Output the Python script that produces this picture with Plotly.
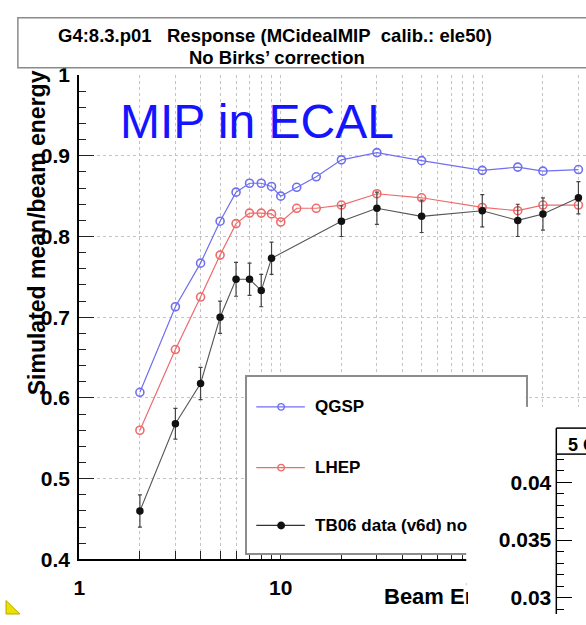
import plotly.graph_objects as go

W, H = 586, 625

# ---------------- data ----------------
energy_sim = [2, 3, 4, 5, 6, 7, 8, 9, 10, 12, 15, 20, 30, 50, 100, 150, 200, 300]
qgsp = [0.607, 0.713, 0.767, 0.819, 0.855, 0.866, 0.866, 0.862, 0.850, 0.861,
        0.874, 0.895, 0.904, 0.894, 0.882, 0.886, 0.881, 0.883]
lhep = [0.560, 0.660, 0.725, 0.777, 0.816, 0.829, 0.829, 0.828, 0.818, 0.835,
        0.835, 0.839, 0.853, 0.848, 0.836, 0.832, 0.839, 0.839]
energy_data = [2, 3, 4, 5, 6, 7, 8, 9, 20, 30, 50, 100, 150, 200, 300]
tb06 = [0.460, 0.568, 0.618, 0.700, 0.747, 0.747, 0.733, 0.773, 0.819, 0.835,
        0.825, 0.832, 0.820, 0.828, 0.848]
tb06_err = [0.020, 0.019, 0.020, 0.020, 0.021, 0.020, 0.020, 0.020, 0.019, 0.020,
            0.020, 0.020, 0.020, 0.020, 0.020]

series_names = ["QGSP", "LHEP", "TB06 data (v6d) no Birks"]
x_major = [1, 10, 100]
x_major_text = ["1", "10", "100"]
x_minor = [2, 3, 4, 5, 6, 7, 8, 9, 20, 30, 40, 50, 60, 70, 80, 90, 200, 300, 400]
inset_major = [0.03, 0.035, 0.04]
inset_major_text = ["0.03", "0.035", "0.04"]
inset_minor = [0.029, 0.031, 0.032, 0.033, 0.034, 0.036, 0.037, 0.038, 0.039, 0.041, 0.042]

BLUE = "#6f6ff0"
RED = "#ee6b6b"
BLACK = "#111111"
FONT = "Liberation Sans"


def px(x):
    return x / W


def py(y):
    return 1 - y / H


fig = go.Figure()

# ---------------- main series ----------------
fig.add_trace(go.Scatter(
    x=energy_sim, y=qgsp, mode="lines+markers", name=series_names[0],
    line=dict(color=BLUE, width=1.2),
    marker=dict(symbol="circle-open", size=8, color=BLUE, line=dict(width=1.6, color=BLUE)),
    xaxis="x", yaxis="y", showlegend=False))
fig.add_trace(go.Scatter(
    x=energy_sim, y=lhep, mode="lines+markers", name=series_names[1],
    line=dict(color=RED, width=1.2),
    marker=dict(symbol="circle-open", size=8, color=RED, line=dict(width=1.6, color=RED)),
    xaxis="x", yaxis="y", showlegend=False))
fig.add_trace(go.Scatter(
    x=energy_data, y=tb06, mode="lines+markers", name=series_names[2],
    line=dict(color="#555555", width=1.1),
    marker=dict(symbol="circle", size=7.5, color=BLACK),
    error_y=dict(type="data", array=tb06_err, visible=True, color="#444444",
                 thickness=1.2, width=2),
    xaxis="x", yaxis="y", showlegend=False))

# ---------------- legend (own subplot x2/y2) ----------------
leg_rows = [0.831, 0.486, 0.158]
leg_styles = [
    dict(color=BLUE, symbol="circle-open", lc=BLUE),
    dict(color=RED, symbol="circle-open", lc=RED),
    dict(color=BLACK, symbol="circle", lc="#333333"),
]
for yy, st in zip(leg_rows, leg_styles):
    fig.add_trace(go.Scatter(x=[0.035, 0.209], y=[yy, yy], mode="lines",
                             line=dict(color=st["lc"], width=1.2),
                             xaxis="x2", yaxis="y2", showlegend=False, hoverinfo="skip"))
    fig.add_trace(go.Scatter(x=[0.124], y=[yy], mode="markers",
                             marker=dict(symbol=st["symbol"], size=6.5, color=st["color"],
                                         line=dict(width=1.4, color=st["color"])),
                             xaxis="x2", yaxis="y2", showlegend=False, hoverinfo="skip"))

# ---------------- inset (x3/y3) ----------------
fig.add_trace(go.Scatter(x=[], y=[], xaxis="x3", yaxis="y3", showlegend=False))

inset_lo = 0.03 - (625 - 608.3) * (0.005 / 60)
inset_hi = 0.03 + (608.3 - 410) * (0.005 / 60)

grid_col = "#c4c4c4"
tickfont = dict(family=FONT, size=21, color="black", weight="bold")

fig.update_layout(
    width=W, height=H, autosize=False,
    margin=dict(l=0, r=0, t=0, b=0, pad=0),
    paper_bgcolor="white", plot_bgcolor="#ffffff",
    font=dict(family=FONT),
    xaxis=dict(
        type="log", range=[0, (586 - 74) / 203.6], domain=[px(74), 1], anchor="y",
        tickmode="array", tickvals=x_major, ticktext=x_major_text,
        ticks="inside", ticklen=15, tickwidth=1, tickcolor="#222",
        showline=True, linecolor="black", linewidth=2,
        showgrid=True, gridcolor=grid_col, griddash="dot", gridwidth=1,
        minor=dict(tickmode="array", tickvals=x_minor, ticks="inside", ticklen=8,
                   tickcolor="#222", tickwidth=1, showgrid=True, gridcolor=grid_col,
                   griddash="dot", gridwidth=1),
        tickfont=tickfont, ticklabelstandoff=8, zeroline=False,
    ),
    yaxis=dict(
        range=[0.4, 1.0], domain=[py(568.3), py(65.5)], anchor="x",
        tick0=0.4, dtick=0.1,
        ticks="inside", ticklen=15, tickwidth=1, tickcolor="#222",
        showline=True, linecolor="black", linewidth=2,
        showgrid=True, gridcolor=grid_col, griddash="dot", gridwidth=1,
        minor=dict(dtick=0.02, tick0=0.4, ticks="inside", ticklen=7, tickcolor="#222",
                   tickwidth=1, showgrid=False),
        tickfont=tickfont, ticklabelstandoff=3, zeroline=False,
    ),
    xaxis2=dict(domain=[px(243), px(525)], range=[0, 1], anchor="y2",
                showline=True, mirror=True, linecolor="#8c8c8c", linewidth=1.5,
                showticklabels=False, ticks="", showgrid=False, zeroline=False),
    yaxis2=dict(domain=[py(562), py(379)], range=[0, 1], anchor="x2",
                showline=True, mirror=True, linecolor="#8c8c8c", linewidth=1.5,
                showticklabels=False, ticks="", showgrid=False, zeroline=False),
    xaxis3=dict(domain=[px(465), 1], range=[0, 1], anchor="y3", visible=False),
    yaxis3=dict(domain=[0, py(410)], range=[inset_lo, inset_hi], anchor="free",
                position=px(556),
                tickmode="array", tickvals=inset_major, ticktext=inset_major_text,
                ticks="inside", ticklen=15, tickwidth=1, tickcolor="black",
                minor=dict(tickmode="array", tickvals=inset_minor, ticks="inside",
                           ticklen=7, tickwidth=1, tickcolor="black", showgrid=False),
                showline=False, showgrid=False, zeroline=False,
                tickfont=tickfont, ticklabelstandoff=5),
)

shapes = [
    # title box
    dict(type="rect", xref="paper", yref="paper", x0=px(12), x1=px(600), y0=py(58), y1=py(6),
         line=dict(color="#8a8a8a", width=1.5), fillcolor="rgba(0,0,0,0)", layer="above"),
    # inset frame: left line + title box lines
    dict(type="line", xref="paper", yref="paper", x0=px(556), x1=px(556), y0=py(432), y1=0,
         line=dict(color="black", width=1.5), layer="above"),
    dict(type="line", xref="paper", yref="paper", x0=px(556), x1=1, y0=py(432), y1=py(432),
         line=dict(color="black", width=1.5), layer="above"),
    dict(type="line", xref="paper", yref="paper", x0=px(556), x1=1, y0=py(459), y1=py(459),
         line=dict(color="black", width=1.5), layer="above"),
    # yellow corner
    dict(type="path", xref="paper", yref="paper",
         path=f"M 0 {py(611)} L {px(14)} 0 L 0 0 Z",
         fillcolor="#ece000", line=dict(color="#b8aa00", width=1), layer="above"),
]
fig.update_layout(shapes=shapes)

bold = lambda s: dict(family=FONT, size=s, color="black", weight="bold")
annotations = [
    dict(text="G4:8.3.p01\u00a0\u00a0\u00a0Response (MCidealMIP\u00a0\u00a0calib.: ele50)",
         x=px(272), y=py(24.5), xref="paper", yref="paper", xanchor="center", yanchor="middle",
         showarrow=False, font=bold(18.5), borderpad=0),
    dict(text="No Birks\u2019 correction",
         x=px(273.5), y=py(47.5), xref="paper", yref="paper", xanchor="center", yanchor="middle",
         showarrow=False, font=bold(18.5), borderpad=0),
    dict(text="MIP in ECAL", x=px(114), y=py(114), xref="paper", yref="paper",
         xanchor="left", yanchor="middle", showarrow=False,
         font=dict(family=FONT, size=48, color="#1414ff"), borderpad=0),
    dict(text="Simulated mean/beam energy", x=px(31), y=py(229), xref="paper", yref="paper",
         xanchor="center", yanchor="middle", textangle=-90, showarrow=False,
         font=bold(23), borderpad=0),
    dict(text="Beam Energy (GeV)", x=px(381), y=py(607), xref="paper", yref="paper",
         xanchor="left", yanchor="middle", showarrow=False, width=465 - 381, align="left",
         font=bold(22), borderpad=0),
    dict(text="5 GeV", x=px(567), y=py(450), xref="paper", yref="paper",
         xanchor="left", yanchor="middle", showarrow=False, font=bold(18), borderpad=0),
]
leg_text_y = [410, 473.3, 533.3]
for name, yy in zip(series_names, leg_text_y):
    a = dict(text=name, x=px(311), y=py(yy), xref="paper", yref="paper",
             xanchor="left", yanchor="middle", showarrow=False, font=bold(17),
             borderpad=0, align="left")
    if name.startswith("TB06"):
        a["width"] = 465 - 311
    annotations.append(a)
fig.update_layout(annotations=annotations)

fig.write_html(
    "out.html",
    post_script="document.body.style.margin='0';document.body.style.padding='0';"
                "document.documentElement.style.overflow='hidden';",
)
